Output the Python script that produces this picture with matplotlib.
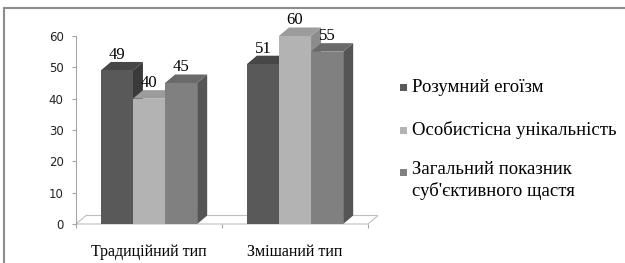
import matplotlib
matplotlib.use("Agg")
import matplotlib.pyplot as plt
from matplotlib.patches import Polygon, Rectangle
import numpy as np

categories = ["Традиційний тип", "Змішаний тип"]
series = ["Розумний егоїзм", "Особистісна унікальність",
          "Загальний показник\nсуб'єктивного щастя"]
values = [
    [49, 51],   # Розумний егоїзм
    [40, 60],   # Особистісна унікальність
    [45, 55],   # Загальний показник
]
yticks = [0, 10, 20, 30, 40, 50, 60]

front = ["#595959", "#b3b3b3", "#808080"]
top_c = ["#474747", "#9c9c9c", "#6a6a6a"]
side_c = ["#3a3a3a", "#8c8c8c", "#555555"]

W, H = 625, 263
fig = plt.figure(figsize=(W / 100, H / 100), dpi=100)
ax = fig.add_axes([76 / W, 39 / H, 292 / W, 188 / H])
ax.set_xlim(-0.5, 1.5)
ax.set_ylim(0, 60)

dx = 10 / 146
dy = 8.5 / (188 / 60)
bw = 0.22

# floor
floor = Polygon([(-0.5, 0), (1.5, 0), (1.5 + dx, dy), (-0.5 + dx, dy)],
                closed=True, facecolor="white", edgecolor="#bfbfbf",
                linewidth=0.8, zorder=1, clip_on=False)
ax.add_patch(floor)

x = np.arange(len(categories))
z = 2
for ci in range(len(categories)):
    for si in range(len(series)):
        bars = ax.bar(x[ci] + (si - 1) * bw, values[si][ci], width=bw,
                      color=front[si], zorder=z + 2, linewidth=0, clip_on=False)
        r = bars[0]
        x0, x1 = r.get_x(), r.get_x() + r.get_width()
        h = r.get_height()
        side = Polygon([(x1, 0), (x1, h), (x1 + dx, h + dy), (x1 + dx, dy)],
                       closed=True, facecolor=side_c[si], linewidth=0,
                       zorder=z, clip_on=False)
        topf = Polygon([(x0, h), (x1, h), (x1 + dx, h + dy), (x0 + dx, h + dy)],
                       closed=True, facecolor=top_c[si], linewidth=0,
                       zorder=z + 1, clip_on=False)
        ax.add_patch(side)
        ax.add_patch(topf)
        ax.text((x0 + x1) / 2, h + dy - 0.3, str(values[si][ci]),
                ha="center", va="bottom", fontsize=12,
                family="Liberation Serif", zorder=50)
        z += 3

for s in ["top", "right", "bottom"]:
    ax.spines[s].set_visible(False)
ax.spines["left"].set_color("#a6a6a6")
ax.spines["left"].set_linewidth(0.8)
ax.set_yticks(yticks)
ax.set_yticklabels([str(t) for t in yticks], fontsize=8.5, family="DejaVu Sans",
                   color="#222222")
ax.tick_params(axis="y", length=3, width=0.8, color="#a6a6a6", pad=6)
ax.set_xticks([-0.5, 0.5, 1.5])
ax.set_xticklabels([])
ax.tick_params(axis="x", length=3, width=0.8, color="#a6a6a6")
for xi, c in zip(x, categories):
    ax.text(xi, -6.5, c, ha="center", va="top", fontsize=11.5,
            family="Liberation Serif", transform=ax.transData)

# legend
leg_y = [87, 130, 172]
for si in range(len(series)):
    yy = leg_y[si]
    fig.patches.append(Rectangle((400 / W, (H - yy - 3.5) / H), 7 / W, 7 / H,
                                 transform=fig.transFigure, facecolor=front[si],
                                 edgecolor="none"))
    if "\n" in series[si]:
        fig.text(412 / W, (H - yy + 11) / H, series[si], ha="left", va="top",
                 fontsize=13.5, family="Liberation Serif", linespacing=1.3)
    else:
        fig.text(412 / W, (H - yy) / H, series[si], ha="left", va="center",
                 fontsize=13.5, family="Liberation Serif")

# outer frame (clipped on right and bottom as in the original)
fig.patches.append(Rectangle((4 / W, -10 / H), 640 / W, (H - 8 + 10) / H,
                             transform=fig.transFigure, facecolor="none",
                             edgecolor="#8c8c8c", linewidth=1.5))
fig.savefig("out.png", dpi=100)
